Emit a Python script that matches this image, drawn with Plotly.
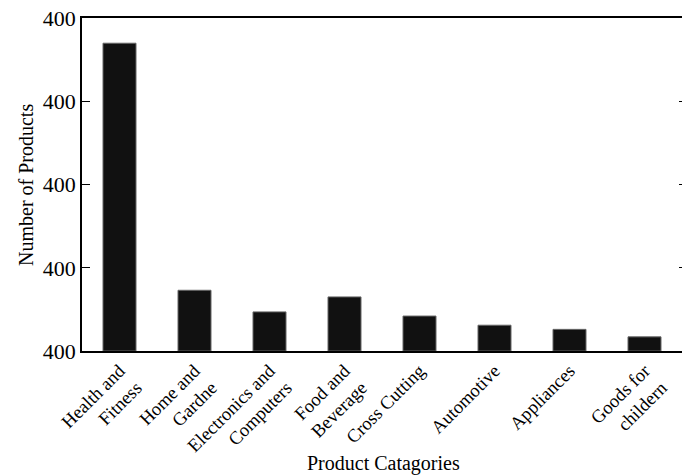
import plotly.graph_objects as go

categories = ["Health and<br>Fitness", "Home and<br>Gardne", "Electronics and<br>Computers",
              "Food and<br>Beverage", "Cross Cutting", "Automotive", "Appliances",
              "Goods for<br>childern"]
values = [370, 73, 47, 65, 42, 31, 26, 17]
y_tickvals = [0, 100, 200, 300, 400]
y_ticktext = ["400", "400", "400", "400", "400"]

FONT = "Liberation Serif"
W, H = 682, 476
L, T, B = 82, 18, 476 - 351

fig = go.Figure()
fig.add_trace(go.Bar(x=categories, y=values,
                     marker=dict(color="#111111", line=dict(color="#666666", width=1))))
# invisible trace to carry right-side inside ticks
fig.add_trace(go.Scatter(x=categories, y=values, yaxis="y2", mode="markers",
                         marker=dict(opacity=0), hoverinfo="skip", showlegend=False))

plot_w = W - L
plot_h = H - T - B

fig.update_layout(
    width=W, height=H,
    margin=dict(l=L, r=0, t=T, b=B, pad=0),
    plot_bgcolor="white", paper_bgcolor="white",
    showlegend=False, bargap=0.56,
    font=dict(family=FONT, color="black"),
    xaxis=dict(showline=True, linecolor="black", linewidth=1.5, mirror=True, automargin=False,
               ticks="", tickangle=-45, tickfont=dict(size=18.5, family=FONT)),
    yaxis=dict(range=[0, 400.3], tickvals=y_tickvals, ticktext=y_ticktext, automargin=False,
               ticklabeloverflow="allow",
               showline=True, linecolor="black", linewidth=1.5, showgrid=False, zeroline=False,
               ticks="inside", ticklen=8, tickcolor="black",
               tickfont=dict(size=22, family=FONT)),
    yaxis2=dict(range=[0, 400.3], tickvals=y_tickvals, overlaying="y", side="right", automargin=False,
                showticklabels=False, ticks="inside", ticklen=3, tickcolor="black",
                showline=False, showgrid=False, zeroline=False),
    annotations=[
        dict(text="Product Catagories", xref="paper", yref="paper",
             x=(383 - 82) / plot_w, y=-(463 - 351) / plot_h,
             xanchor="center", yanchor="middle",
             showarrow=False, font=dict(size=20, family=FONT)),
        dict(text="Number of Products", xref="paper", yref="paper",
             x=(26 - 82) / plot_w, y=(351 - 185) / plot_h,
             xanchor="center", yanchor="middle",
             textangle=-90, showarrow=False, font=dict(size=20, family=FONT)),
    ],
)

fig.write_html("out.html", config={"displayModeBar": False},
               post_script="document.body.style.margin='0px';document.body.style.overflow='hidden';")
